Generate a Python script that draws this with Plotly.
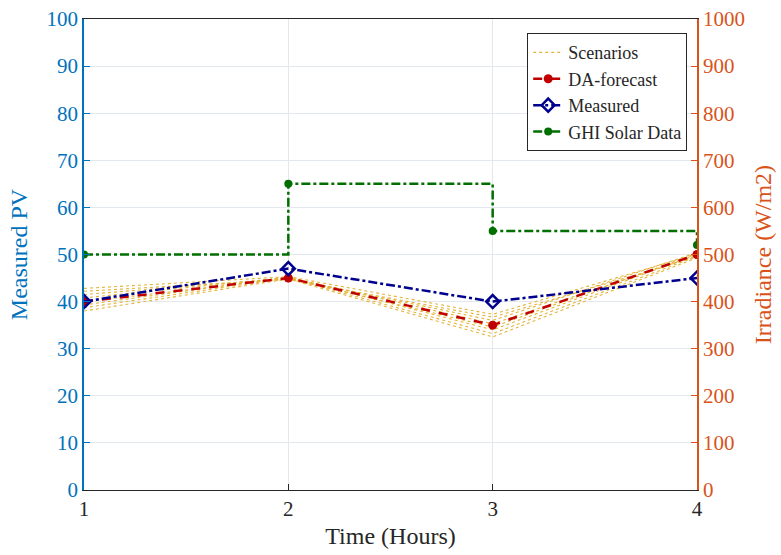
import plotly.graph_objects as go

hours = [1, 2, 3, 4]
da_forecast = [40, 45, 35, 50]
measured = [40, 47, 40, 45]
ghi = [500, 650, 550, 520]
scenarios = [
    [38.0, 44.8, 32.5, 49.3],
    [38.7, 45.0, 33.2, 49.6],
    [39.3, 45.2, 34.0, 50.0],
    [40.0, 44.9, 34.6, 50.2],
    [40.8, 45.1, 35.3, 49.8],
    [41.5, 45.0, 36.0, 50.4],
    [42.2, 44.7, 36.7, 49.5],
    [42.8, 45.3, 37.3, 50.1],
]
y_ticks = list(range(0, 101, 10))
y2_ticks = list(range(0, 1001, 100))

FONT = "Liberation Serif"
BLUE_AX = "#0072BD"
ORANGE_AX = "#D95319"

fig = go.Figure()
for i, s in enumerate(scenarios):
    fig.add_trace(go.Scatter(
        x=hours, y=s, mode="lines", name="Scenarios",
        line=dict(color="#E3B43A", width=1.1, dash="dot"),
        showlegend=(i == 0), legendgroup="sc"))
fig.add_trace(go.Scatter(
    x=hours, y=da_forecast, mode="lines+markers", name="DA-forecast",
    line=dict(color="#C00000", width=2.5, dash="dash"),
    marker=dict(symbol="circle", size=9, color="#C00000")))
fig.add_trace(go.Scatter(
    x=hours, y=measured, mode="lines+markers", name="Measured",
    line=dict(color="#00008F", width=2.5, dash="dashdot"),
    marker=dict(symbol="diamond-open", size=10, color="#00008F",
                line=dict(width=2.5, color="#00008F"))))
fig.add_trace(go.Scatter(
    x=hours, y=ghi, mode="lines+markers", name="GHI Solar Data", yaxis="y2",
    line=dict(color="#006F00", width=2.5, dash="dashdot", shape="hv"),
    marker=dict(symbol="circle", size=8, color="#006F00")))

fig.update_layout(
    width=781, height=555,
    margin=dict(l=84, r=84, t=19, b=65, autoexpand=False),
    plot_bgcolor="white", paper_bgcolor="white",
    font=dict(family=FONT, size=21, color="#262626"),
    xaxis=dict(range=[1, 4], tickvals=hours, ticks="inside", ticklen=6,
               tickcolor="#262626", showline=True, linecolor="#262626",
               linewidth=1, mirror=True, showgrid=True, gridcolor="#E3E8EE",
               zeroline=False, automargin=False,
               title=dict(text="Time (Hours)", font=dict(size=24), standoff=6),
               tickfont=dict(size=21, color="#262626")),
    yaxis=dict(range=[0, 100], tickvals=y_ticks, ticks="inside", ticklen=6,
               tickcolor=BLUE_AX, showline=True, linecolor=BLUE_AX, linewidth=1.5,
               showgrid=True, gridcolor="#E3E8EE", zeroline=False, automargin=False,
               title=dict(text="Measured PV", font=dict(size=24, color=BLUE_AX), standoff=12),
               tickfont=dict(size=21, color=BLUE_AX)),
    yaxis2=dict(range=[0, 1000], tickvals=y2_ticks, ticks="inside", ticklen=6,
                tickcolor=ORANGE_AX, showline=True, linecolor=ORANGE_AX, linewidth=1.5,
                overlaying="y", side="right", showgrid=False, zeroline=False, automargin=False,
                title=dict(text="Irradiance (W/m2)", font=dict(size=24, color=ORANGE_AX), standoff=10),
                tickfont=dict(size=21, color=ORANGE_AX)),
    legend=dict(x=0.984, y=0.97, xanchor="right", yanchor="top",
                bgcolor="white", bordercolor="#262626", borderwidth=1,
                font=dict(size=18, color="#262626"), tracegroupgap=0,
                itemwidth=30),
)

fig.write_html("out.html")
